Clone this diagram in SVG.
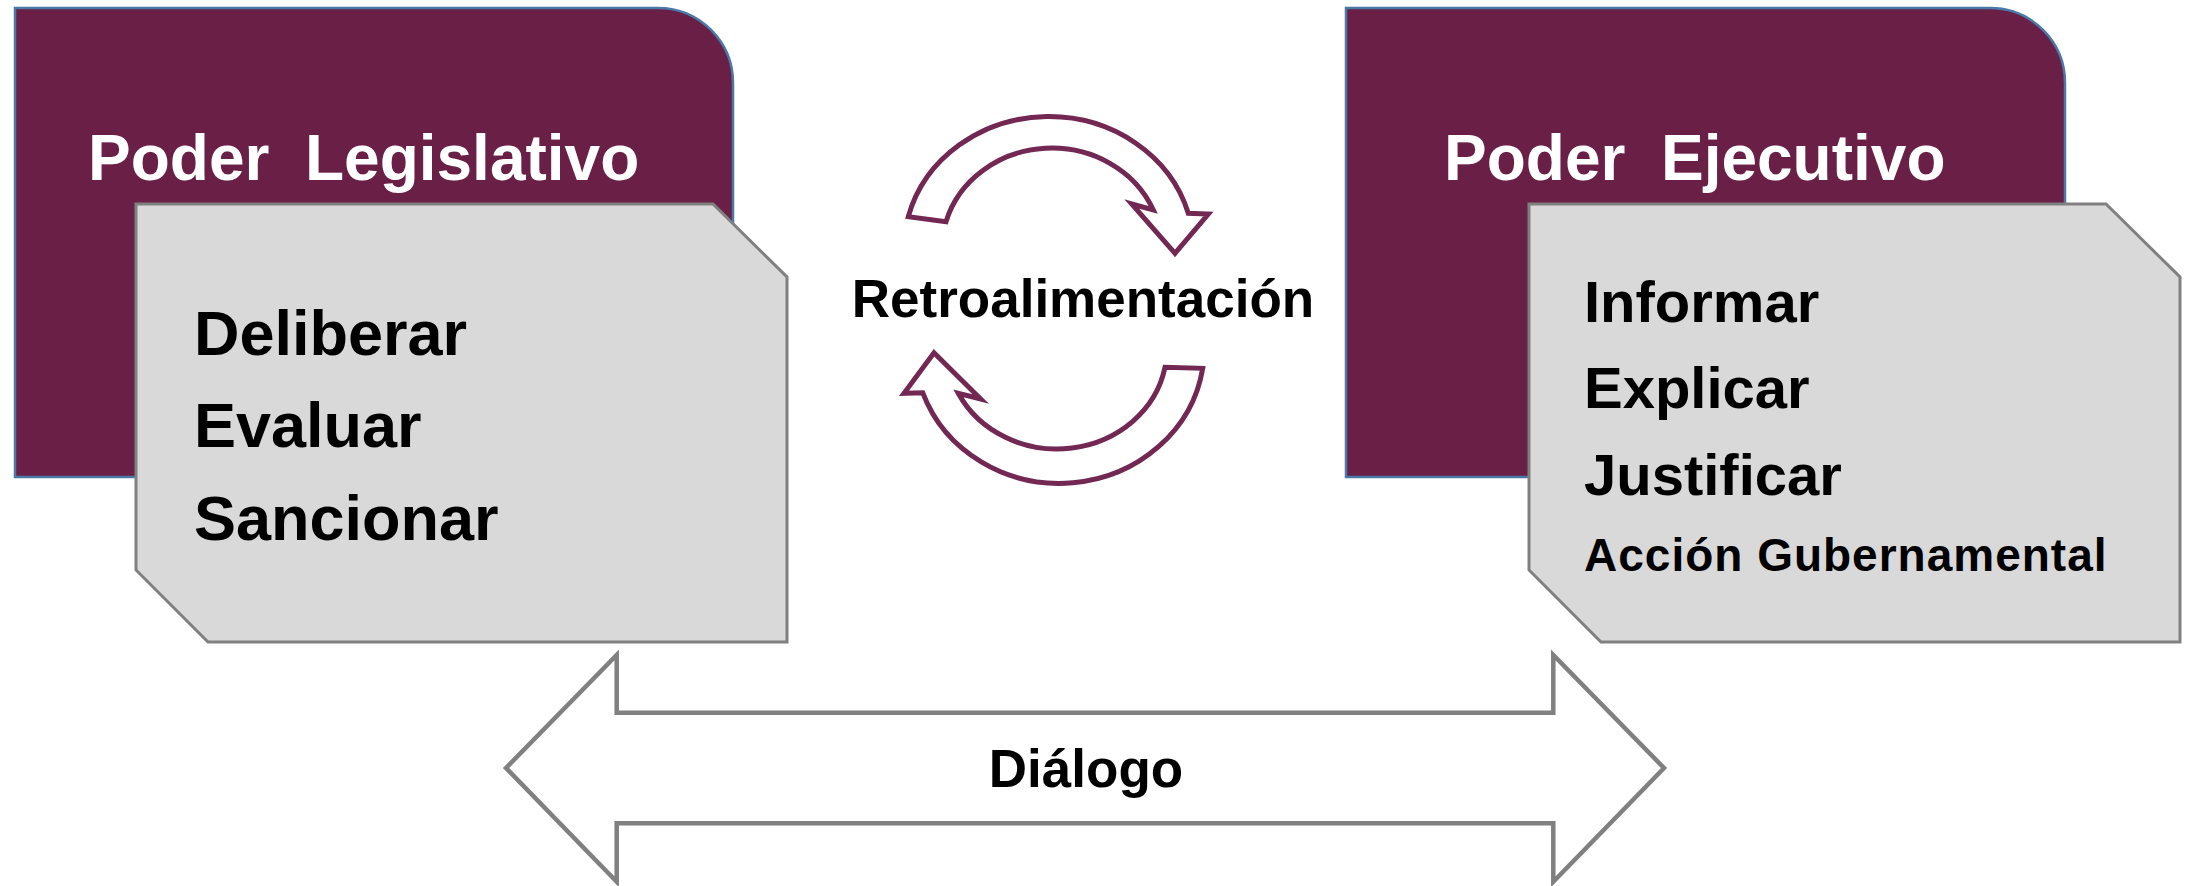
<svg xmlns="http://www.w3.org/2000/svg" width="2190" height="886" viewBox="0 0 2190 886">
<style>
.head{fill:#6a2046;stroke:#4a79a8;stroke-width:2.5}
.card{fill:#d9d9d9;stroke:#808080;stroke-width:3}
.t{font-family:"Liberation Sans",Arial,sans-serif;font-weight:bold}
.w{fill:#ffffff;font-size:64px}
.b{fill:#000000}
.cyc{fill:#ffffff;stroke:#722853;stroke-width:5;stroke-linejoin:miter}
.dlg{fill:#ffffff;stroke:#808080;stroke-width:4.5;stroke-linejoin:miter}
</style>
<rect width="2190" height="886" fill="#ffffff"/>
<g id="legislativo">
<path class="head" d="M15,8 H658 A75,75 0 0 1 733,83 V477 H15 Z"/>
<text class="t w" x="88" y="180" xml:space="preserve">Poder  Legislativo</text>
</g>
<g id="ejecutivo">
<path class="head" d="M1346,8 H1990 A75,75 0 0 1 2065,83 V477 H1346 Z"/>
<text class="t w" x="1444" y="180" xml:space="preserve">Poder  Ejecutivo</text>
</g>
<g id="funciones-legislativo">
<path class="card" d="M136,204 H713 L787,277 V642 H208 L136,570 Z"/>
<text class="t b" x="194" y="355" font-size="63">Deliberar</text>
<text class="t b" x="194" y="447" font-size="63">Evaluar</text>
<text class="t b" x="194" y="540" font-size="63">Sancionar</text>
</g>
<g id="funciones-ejecutivo">
<path class="card" d="M1529,204 H2106 L2180,277 V642 H1601 L1529,570 Z"/>
<text class="t b" x="1584" y="322" font-size="58">Informar</text>
<text class="t b" x="1584" y="408" font-size="58">Explicar</text>
<text class="t b" x="1584" y="495" font-size="58">Justificar</text>
<text class="t b" x="1584" y="571" font-size="46" letter-spacing="1">Acción Gubernamental</text>
</g>
<g id="connectors">
<g id="retroalimentacion">
<path class="cyc" d="M908.3,216.7 A145,133 0 0 1 1188.3,213.3 L1208.3,214 L1175,253.3 L1131.7,204 L1153.3,210 A110,101 0 0 0 946,221.7 Z"/>
<path class="cyc" d="M1202.7,368.3 A145,136 0 0 1 922.7,392.7 L904,393.3 L934,352.7 L980.7,399 L958.3,393.3 A110,100 0 0 0 1165,367.3 Z"/>
<text class="t b" x="1083" y="317" font-size="53" text-anchor="middle">Retroalimentación</text>
</g>
<g id="dialogo">
<path class="dlg" d="M506,768 L616.7,655 V712.7 H1553.3 V655 L1664,768 L1553.3,881.7 V823.3 H616.7 V881.7 Z"/>
<text class="t b" x="1086" y="787" font-size="53" text-anchor="middle">Diálogo</text>
</g>
</g>
</svg>
